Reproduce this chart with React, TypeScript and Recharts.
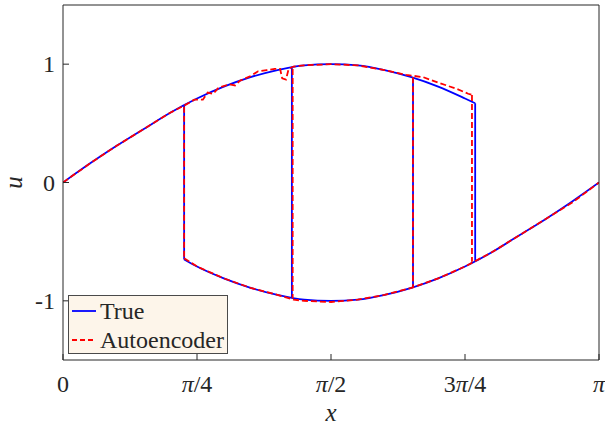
import { LineChart, Line, XAxis, YAxis, Legend } from 'recharts'

// x is given in units of pi
const xTicks = [0, 0.25, 0.5, 0.75, 1]
const xTickLabels = ['0', 'π/4', 'π/2', '3π/4', 'π']
const yTicks = [-1, 0, 1]
const yTickLabels = ['-1', '0', '1']

// True solution
const trueUpperX = [0, 0.05, 0.1, 0.15, 0.2, 0.25, 0.3, 0.35, 0.4, 0.45, 0.5, 0.55, 0.6, 0.65, 0.7, 0.75, 0.769]
const trueUpperU = [0, 0.16, 0.31, 0.45, 0.59, 0.71, 0.81, 0.89, 0.95, 0.99, 1.0, 0.99, 0.95, 0.89, 0.81, 0.71, 0.67]
const trueLowerX = [0.226, 0.25, 0.3, 0.35, 0.4, 0.45, 0.5, 0.55, 0.6, 0.65, 0.7, 0.75, 0.8, 0.85, 0.9, 0.95, 1]
const trueLowerU = [-0.65, -0.71, -0.81, -0.89, -0.95, -0.99, -1.0, -0.99, -0.95, -0.89, -0.81, -0.71, -0.59, -0.45, -0.31, -0.16, 0]
const trueJumpX = [0.226, 0.427, 0.653, 0.769]
const trueJumpTop = [0.65, 0.97, 0.88, 0.67]
const trueJumpBottom = [-0.65, -0.97, -0.88, -0.67]

// Autoencoder reconstruction
const aeUpperX = [0, 0.05, 0.1, 0.15, 0.2, 0.23, 0.245, 0.261, 0.27, 0.28, 0.29, 0.31, 0.321, 0.33, 0.35, 0.364, 0.38, 0.395, 0.405, 0.409, 0.416, 0.421, 0.43, 0.45, 0.5, 0.55, 0.6, 0.64, 0.672, 0.703, 0.735, 0.756, 0.763]
const aeUpperU = [0, 0.16, 0.31, 0.45, 0.59, 0.66, 0.7, 0.7, 0.76, 0.75, 0.8, 0.83, 0.82, 0.86, 0.9, 0.94, 0.95, 0.96, 0.96, 0.88, 0.87, 0.96, 0.98, 0.99, 1.0, 0.99, 0.95, 0.91, 0.89, 0.84, 0.79, 0.75, 0.74]
const aeLowerX = [0.226, 0.25, 0.3, 0.35, 0.4, 0.43, 0.45, 0.5, 0.55, 0.6, 0.65, 0.7, 0.75, 0.8, 0.85, 0.9, 0.95, 1]
const aeLowerU = [-0.64, -0.71, -0.81, -0.89, -0.95, -0.99, -1.0, -1.01, -0.99, -0.95, -0.89, -0.81, -0.71, -0.59, -0.45, -0.31, -0.17, 0]
const aeJumpX = [0.226, 0.4285, 0.653, 0.763]
const aeJumpTop = [0.64, 0.96, 0.89, 0.74]
const aeJumpBottom = [-0.65, -0.98, -0.88, -0.67]

type Pt = { x: number; u: number | null }

function buildPath(
  ux: number[], uu: number[], lx: number[], lu: number[],
  jx: number[], jt: number[], jb: number[],
): Pt[] {
  const pts: Pt[] = []
  ux.forEach((x, i) => pts.push({ x, u: uu[i] }))
  pts.push({ x: ux[ux.length - 1], u: null })
  lx.forEach((x, i) => pts.push({ x, u: lu[i] }))
  jx.forEach((x, i) => {
    pts.push({ x, u: null })
    pts.push({ x, u: jt[i] })
    pts.push({ x, u: jb[i] })
  })
  return pts
}

const trueData = buildPath(trueUpperX, trueUpperU, trueLowerX, trueLowerU, trueJumpX, trueJumpTop, trueJumpBottom)
const aeData = buildPath(aeUpperX, aeUpperU, aeLowerX, aeLowerU, aeJumpX, aeJumpTop, aeJumpBottom)

const FONT =
  "'Liberation Serif', LiberationSerif, Tinos, 'Noto Serif', 'DejaVu Serif', FreeSerif, 'Nimbus Roman', 'Times New Roman', Times, serif"
const AXIS = '#262626'

function XTick(props: any) {
  const { x, y, payload } = props
  const label = xTickLabels[xTicks.indexOf(payload.value)] ?? ''
  const parts = label.split('π')
  return (
    <text x={x} y={y + 16} textAnchor="middle" style={{ fontFamily: FONT }} fontSize={24} fill={AXIS}>
      {parts.map((p, i) => (
        <tspan key={i}>
          {p}
          {i < parts.length - 1 && <tspan fontStyle="italic">π</tspan>}
        </tspan>
      ))}
    </text>
  )
}

function YTick(props: any) {
  const { x, y, payload } = props
  const label = yTickLabels[yTicks.indexOf(payload.value)] ?? ''
  return (
    <text x={x} y={y + 8} textAnchor="end" style={{ fontFamily: FONT }} fontSize={24} fill={AXIS}>
      {label}
    </text>
  )
}

function LegendBox() {
  const rows = [
    { name: 'True', color: '#0000ff', dash: undefined },
    { name: 'Autoencoder', color: '#ff0000', dash: '5 3' },
  ]
  return (
    <div
      style={{
        width: 158,
        height: 57,
        border: '1px solid #4a4a4a',
        background: '#fdf5ea',
        fontFamily: FONT,
        fontSize: 24,
        color: '#262626',
        boxSizing: 'content-box',
      }}
    >
      {rows.map((r) => (
        <div key={r.name} style={{ display: 'flex', alignItems: 'center', height: 28, marginTop: 1 }}>
          <svg width={29} height={10} style={{ marginLeft: 2 }}>
            <line x1={1} y1={5} x2={25} y2={5} stroke={r.color} strokeWidth={1.8} strokeDasharray={r.dash} />
          </svg>
          <span style={{ lineHeight: '28px' }}>{r.name}</span>
        </div>
      ))}
    </div>
  )
}

export default function App() {
  return (
    <div style={{ position: 'absolute', left: 0, top: 0, width: 605, height: 425, background: '#fff', fontFamily: FONT }}>
      <LineChart width={605} height={425} margin={{ top: 0, right: 0, bottom: 0, left: 0 }} style={{ fontFamily: FONT }}>
        <XAxis
          xAxisId="b"
          dataKey="x"
          type="number"
          domain={[0, 1]}
          ticks={xTicks}
          allowDataOverflow
          height={65}
          stroke={AXIS}
          tickSize={-6}
          tickMargin={22}
          tick={<XTick />}
          label={{
            content: (p: any) => (
              <text
                x={p.viewBox.x + p.viewBox.width / 2}
                y={p.viewBox.y + 61}
                textAnchor="middle"
                style={{ fontFamily: FONT }}
                fontStyle="italic"
                fontSize={25}
                fill={AXIS}
              >
                x
              </text>
            ),
          }}
        />
        <XAxis
          xAxisId="t"
          orientation="top"
          dataKey="x"
          type="number"
          domain={[0, 1]}
          ticks={xTicks}
          allowDataOverflow
          height={5}
          stroke={AXIS}
          tickSize={-6}
          tick={false}
        />
        <YAxis
          yAxisId="l"
          dataKey="u"
          type="number"
          domain={[-1.5, 1.5]}
          ticks={yTicks}
          allowDataOverflow
          width={63}
          stroke={AXIS}
          tickSize={-6}
          tickMargin={14}
          tick={<YTick />}
          label={{
            content: (p: any) => {
              const cx = p.viewBox.x + 22
              const cy = p.viewBox.y + p.viewBox.height / 2
              return (
                <text
                  x={cx}
                  y={cy}
                  transform={`rotate(-90 ${cx} ${cy})`}
                  textAnchor="middle"
                  style={{ fontFamily: FONT }}
                  fontStyle="italic"
                  fontSize={25}
                  fill={AXIS}
                >
                  u
                </text>
              )
            },
          }}
        />
        <YAxis
          yAxisId="r"
          orientation="right"
          dataKey="u"
          type="number"
          domain={[-1.5, 1.5]}
          ticks={yTicks}
          allowDataOverflow
          width={6}
          stroke={AXIS}
          tickSize={-6}
          tick={false}
        />
        <Line
          xAxisId="b"
          yAxisId="l"
          data={trueData}
          dataKey="u"
          name="True"
          type="monotone"
          stroke="#0000ff"
          strokeWidth={1.8}
          dot={false}
          connectNulls={false}
          isAnimationActive={false}
        />
        <Line
          xAxisId="b"
          yAxisId="l"
          data={aeData}
          dataKey="u"
          name="Autoencoder"
          type="linear"
          stroke="#ff0000"
          strokeWidth={1.8}
          strokeDasharray="6 3"
          dot={false}
          connectNulls={false}
          isAnimationActive={false}
        />
        <Legend
          layout="vertical"
          align="center"
          verticalAlign="middle"
          content={<LegendBox />}
          wrapperStyle={{ left: 68, top: 295, width: 160, height: 59 }}
        />
      </LineChart>
    </div>
  )
}
